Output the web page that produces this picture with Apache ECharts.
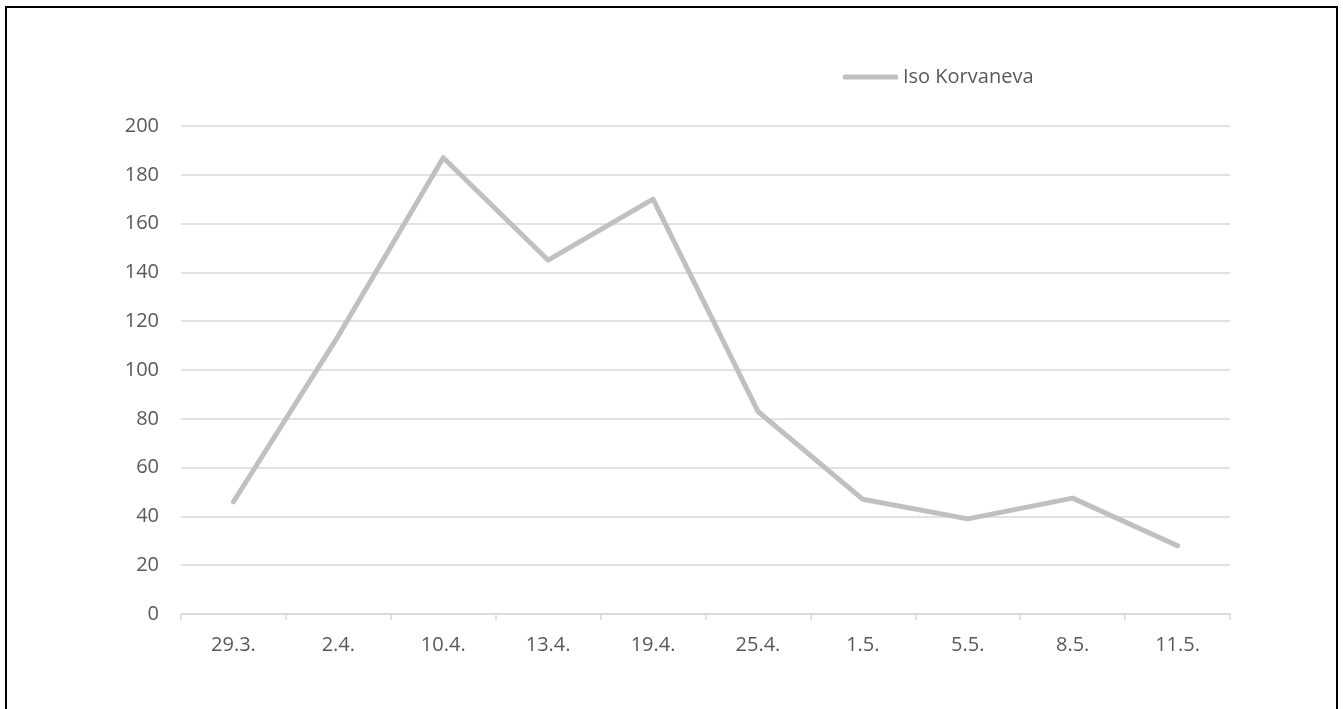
<!DOCTYPE html>
<html>
<head>
<meta charset="utf-8">
<script src="https://cdn.jsdelivr.net/npm/echarts@6/dist/echarts.min.js"></script>
<style>
html,body{margin:0;padding:0;background:#fff;}
#chart{width:1343px;height:709px;}
</style>
</head>
<body>
<div id="chart"></div>
<script>
var categories = ['29.3.', '2.4.', '10.4.', '13.4.', '19.4.', '25.4.', '1.5.', '5.5.', '8.5.', '11.5.'];
var seriesName = 'Iso Korvaneva';
var values = [46, 114, 187, 145, 170, 83, 47, 39, 47.5, 28];
var yTicks = { min: 0, max: 200, interval: 20 };

var chart = echarts.init(document.getElementById('chart'));
var font = 'Open Sans';
chart.setOption({
  animation: false,
  backgroundColor: '#fff',
  graphic: [{
    type: 'rect',
    shape: { x: 6, y: 7, width: 1331, height: 720 },
    style: { fill: 'none', stroke: '#000', lineWidth: 2 },
    silent: true
  }],
  legend: {
    data: [seriesName],
    left: 838,
    top: 62,
    itemWidth: 55,
    itemHeight: 5,
    icon: 'roundRect',
    textStyle: { color: '#595959', fontSize: 20, fontFamily: font }
  },
  grid: { left: 181, right: 113, top: 126, bottom: 95, containLabel: false },
  xAxis: {
    type: 'category',
    data: categories,
    boundaryGap: true,
    axisLine: { lineStyle: { color: '#d9d9d9', width: 1.5 } },
    axisTick: { show: true, length: 6, lineStyle: { color: '#d9d9d9', width: 1.5 } },
    axisLabel: { color: '#595959', fontSize: 20, fontFamily: font, margin: 21 },
    splitLine: { show: false }
  },
  yAxis: {
    type: 'value',
    min: yTicks.min,
    max: yTicks.max,
    interval: yTicks.interval,
    axisLine: { show: false },
    axisTick: { show: false },
    axisLabel: { color: '#595959', fontSize: 20, fontFamily: font, margin: 22 },
    splitLine: { lineStyle: { color: '#d9d9d9', width: 1.5 } }
  },
  series: [{
    name: seriesName,
    type: 'line',
    data: values,
    showSymbol: false,
    symbol: 'none',
    itemStyle: { color: '#c0c0c0' },
    lineStyle: { color: '#c0c0c0', width: 5, cap: 'round', join: 'round' }
  }]
});
</script>
</body>
</html>
